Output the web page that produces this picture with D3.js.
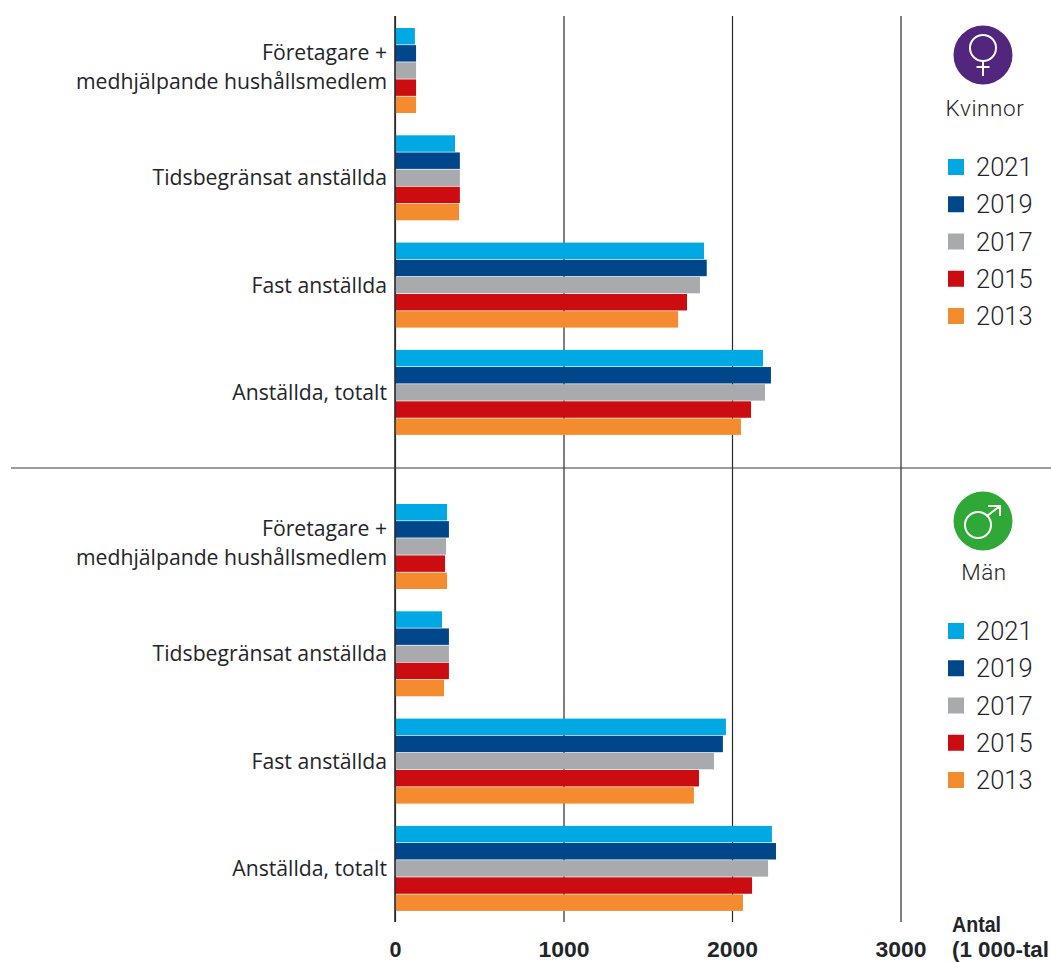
<!DOCTYPE html>
<html>
<head>
<meta charset="utf-8">
<script src="https://cdn.jsdelivr.net/npm/d3@7"></script>
<style>
  html, body { margin: 0; padding: 0; background: #fff; }
  svg { display: block; }
  text { font-family: Roboto, sans-serif; font-weight: 300; fill: #1f2529; }
</style>
</head>
<body>
<div id="chart"></div>
<script>
// categories, top to bottom
var categories = ["Företagare", "Tidsbegränsat", "Fast", "Totalt"];
var categoryLabels = [
    ["Företagare +", "medhjälpande hushållsmedlem"],
    ["Tidsbegränsat anställda"],
    ["Fast anställda"],
    ["Anställda, totalt"]
];
var years = ["2021", "2019", "2017", "2015", "2013"];
var yearColors = ["#00a8e4", "#00468b", "#a8aaae", "#cb0c11", "#f48c2f"];
var axisTicks = [0, 1000, 2000, 3000];

// values per year, same order as categories (1 000-tal)
var women2021 = [118, 356, 1834, 2184];
var women2019 = [125, 385, 1850, 2231];
var women2017 = [125, 385, 1810, 2196];
var women2015 = [125, 385, 1733, 2113];
var women2013 = [125, 380, 1680, 2053];

var men2021 = [309, 279, 1964, 2237];
var men2019 = [320, 320, 1946, 2261];
var men2017 = [303, 320, 1893, 2214];
var men2015 = [297, 320, 1804, 2119];
var men2013 = [309, 291, 1774, 2065];

var womenSeries = [women2021, women2019, women2017, women2015, women2013];
var menSeries = [men2021, men2019, men2017, men2015, men2013];

var width = 1051, height = 962;
var svg = d3.select("#chart").append("svg")
    .attr("width", width)
    .attr("height", height);

var x = d3.scaleLinear().domain([0, 3000]).range([395, 900.5]);

// bold axis text squeezed to the narrow width of the original face
function narrowBold(sel, w) {
    sel.style("font-family", "'Liberation Sans', sans-serif")
        .style("font-weight", "bold")
        .style("font-size", "22px")
        .attr("textLength", w)
        .attr("lengthAdjust", "spacingAndGlyphs");
}

// grid lines, drawn first so the bars sit on top
var axis = d3.axisBottom(x)
    .tickValues(axisTicks)
    .tickFormat(d3.format("d"))
    .tickSize(-906)
    .tickPadding(19.4);

var axisG = svg.append("g")
    .attr("transform", "translate(0,922)")
    .call(axis);
axisG.select(".domain").remove();
axisG.selectAll("line").attr("stroke", "#2b2b2b").attr("stroke-width", 1.2);
axisG.selectAll("text").each(function (d) {
    narrowBold(d3.select(this), d === 0 ? 12 : 51);
});

// one panel: women or men
function drawPanel(series, top, legendTop) {
    var y = d3.scaleBand().domain(categories)
        .range([top, top + 107.3 * 4]).paddingInner(0).paddingOuter(0);
    var y1 = d3.scaleBand().domain(years).range([0, 85]).paddingInner(0.04);
    var g = svg.append("g");

    years.forEach(function (year, i) {
        g.append("g").selectAll("rect")
            .data(series[i])
            .join("rect")
            .attr("x", x(0))
            .attr("y", function (d, j) { return y(categories[j]) + y1(year); })
            .attr("width", function (d) { return x(d) - x(0); })
            .attr("height", y1.bandwidth())
            .attr("fill", yearColors[i]);
    });

    categoryLabels.forEach(function (lines, j) {
        var mid = y(categories[j]) + 42.5;
        lines.forEach(function (line, k) {
            var shift = lines.length > 1 ? -4 : 0;
            g.append("text")
                .attr("x", 387)
                .attr("y", mid + 7.5 + shift + (k - (lines.length - 1) / 2) * 29)
                .attr("text-anchor", "end")
                .style("font-family", "'Open Sans', sans-serif")
                .style("font-weight", 400)
                .style("font-size", "21.2px")
                .text(line);
        });
    });

    var legend = d3.scalePoint().domain(years).range([legendTop, legendTop + 149]);
    years.forEach(function (year, i) {
        g.append("rect")
            .attr("x", 948).attr("y", legend(year) - 8)
            .attr("width", 16).attr("height", 16)
            .attr("fill", yearColors[i]);
        g.append("text")
            .attr("x", 976).attr("y", legend(year) + 9)
            .style("font-size", "25.5px")
            .text(year);
    });
}

drawPanel(womenSeries, 28, 167);
drawPanel(menSeries, 504, 631);

// baseline and divider
svg.append("line")
    .attr("x1", x(0)).attr("x2", x(0)).attr("y1", 16).attr("y2", 922)
    .attr("stroke", "#2b2b2b").attr("stroke-width", 1.6);
svg.append("line")
    .attr("x1", 11).attr("x2", width).attr("y1", 468).attr("y2", 468)
    .attr("stroke", "#3a3a3a").attr("stroke-width", 1);

// gender badges
var female = svg.append("g").attr("transform", "translate(983,55)");
female.append("circle").attr("r", 29.5).attr("fill", "#52267d");
female.append("circle").attr("cy", -7).attr("r", 13)
    .attr("fill", "none").attr("stroke", "#fff").attr("stroke-width", 2);
female.append("path").attr("d", "M0,6V21M-6.5,12H6.5")
    .attr("fill", "none").attr("stroke", "#fff").attr("stroke-width", 2);

var male = svg.append("g").attr("transform", "translate(983,521)");
male.append("circle").attr("r", 29.5).attr("fill", "#2fa838");
male.append("circle").attr("cx", -5).attr("cy", 4).attr("r", 13)
    .attr("fill", "none").attr("stroke", "#fff").attr("stroke-width", 2);
male.append("path").attr("d", "M4,-5L17,-15M5,-15H17V-5")
    .attr("fill", "none").attr("stroke", "#fff").attr("stroke-width", 2);

svg.append("text").attr("x", 985).attr("y", 116).attr("text-anchor", "middle")
    .style("font-size", "22.5px").style("letter-spacing", "0.6px").text("Kvinnor");
svg.append("text").attr("x", 984).attr("y", 580).attr("text-anchor", "middle")
    .style("font-size", "22.5px").style("letter-spacing", "0.5px").text("Män");

// axis unit
[["Antal", 49], ["(1 000-tal", 97]].forEach(function (line, i) {
    narrowBold(svg.append("text")
        .attr("x", 952).attr("y", 932 + i * 25)
        .text(line[0]), line[1]);
});
</script>
</body>
</html>
